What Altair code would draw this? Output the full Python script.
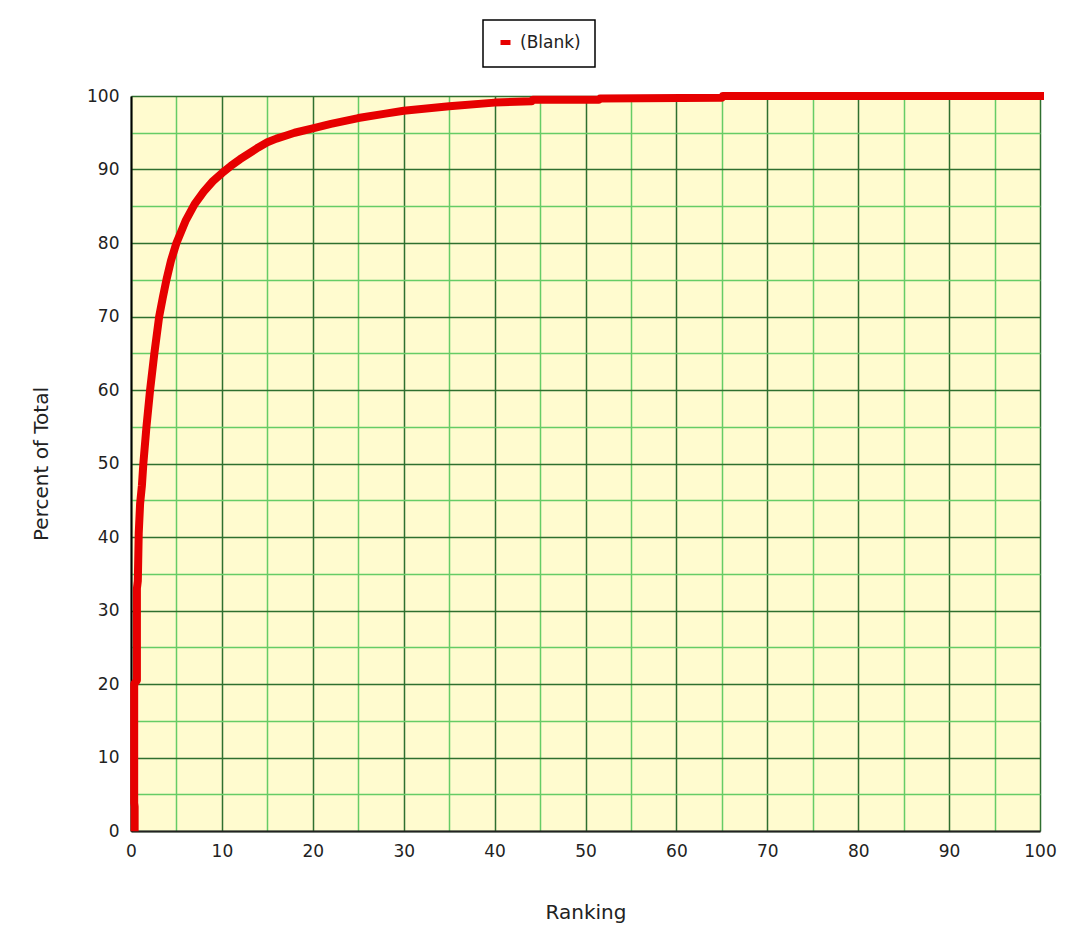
import altair as alt
import pandas as pd

# ---- data ----
ranking = [0.4, 0.4, 0.35, 0.35, 0.65, 0.65, 0.75, 0.85, 1.0, 1.2, 1.36, 1.7, 2.1, 2.57,
           3.1, 3.5, 3.9, 4.4, 5.0, 6.0, 7.0, 8.0, 9.0, 10.0, 11.0, 12.0, 13.0, 14.0,
           15.0, 16.0, 17.0, 18.0, 20.0, 22.0, 25.0, 28.0, 30.0, 35.0, 40.0,
           44.1, 44.2, 51.5, 51.6, 65.0, 65.1, 100.0]
percent = [0.5, 3.3, 3.8, 20.0, 20.5, 33.0, 34.0, 40.5, 44.5, 47.0, 50.0, 55.0, 60.0, 65.0,
           70.0, 72.6, 75.0, 77.6, 80.0, 83.0, 85.3, 87.0, 88.4, 89.5, 90.5, 91.4, 92.2, 93.0,
           93.7, 94.2, 94.6, 95.0, 95.6, 96.2, 97.0, 97.6, 98.0, 98.6, 99.1,
           99.3, 99.5, 99.5, 99.65, 99.75, 100.0, 100.0]
series_name = "(Blank)"
tick_values = list(range(0, 101, 5))

df = pd.DataFrame({
    "Ranking": ranking,
    "Percent": percent,
    "idx": list(range(len(ranking))),
    "series": [series_name] * len(ranking),
})

FONT = "DejaVu Sans"
MAJOR = "#2f6f2f"
MINOR = "#66cc66"

grid_color = {"condition": {"test": "datum.value % 10 == 0", "value": MAJOR}, "value": MINOR}

x_axis = alt.Axis(
    values=tick_values,
    labelExpr="datum.value % 10 == 0 ? datum.label : ''",
    grid=True, gridColor=grid_color, gridWidth=1.5, gridOpacity=1,
    ticks=False, domainColor="#222222", domainWidth=2, labelFlush=False,
    labelFont=FONT, labelFontSize=17, labelColor="#222222", labelPadding=12,
    title="Ranking", titleFont=FONT, titleFontSize=20, titleFontWeight="normal",
    titleColor="#222222", titleX=454.5, titleY=81, titleBaseline="middle",
)
y_axis = alt.Axis(
    values=tick_values,
    labelExpr="datum.value % 10 == 0 ? datum.label : ''",
    grid=True, gridColor=grid_color, gridWidth=1.5, gridOpacity=1,
    ticks=False, domainColor="#000000", domainWidth=2, labelFlush=False,
    labelFont=FONT, labelFontSize=17, labelColor="#222222", labelPadding=12,
    title="Percent of Total", titleFont=FONT, titleFontSize=20, titleFontWeight="normal",
    titleColor="#222222", titleAngle=-90, titleX=-90, titleY=367.5, titleBaseline="middle",
)

chart = alt.Chart(df).mark_line(
    strokeWidth=8, strokeCap="square", strokeJoin="round", clip=False, interpolate="linear"
).encode(
    x=alt.X("Ranking:Q", scale=alt.Scale(domain=[0, 100], nice=False), axis=x_axis),
    y=alt.Y("Percent:Q", scale=alt.Scale(domain=[0, 100], nice=False), axis=y_axis),
    order=alt.Order("idx:Q"),
    color=alt.Color(
        "series:N",
        scale=alt.Scale(domain=[series_name], range=["#e60000"]),
        legend=alt.Legend(
            title=None, orient="none", legendX=352, legendY=-76,
            symbolType="stroke", symbolSize=100, symbolStrokeWidth=5,
            labelFont=FONT, labelFontSize=17, labelColor="#222222", labelOffset=6,
            padding=14, strokeColor="#000000", fillColor="#ffffff",
        ),
    ),
).properties(
    width=909, height=735,
    autosize=alt.AutoSizeParams(type="none"),
    padding={"left": 123, "top": 88, "right": 23, "bottom": 102},
    background="#ffffff",
).configure_view(
    fill="#fffbcf", stroke=None
).configure_legend(
    strokeWidth=1.5
)

chart.save("out.html", embed_options={"renderer": "svg", "actions": False})
